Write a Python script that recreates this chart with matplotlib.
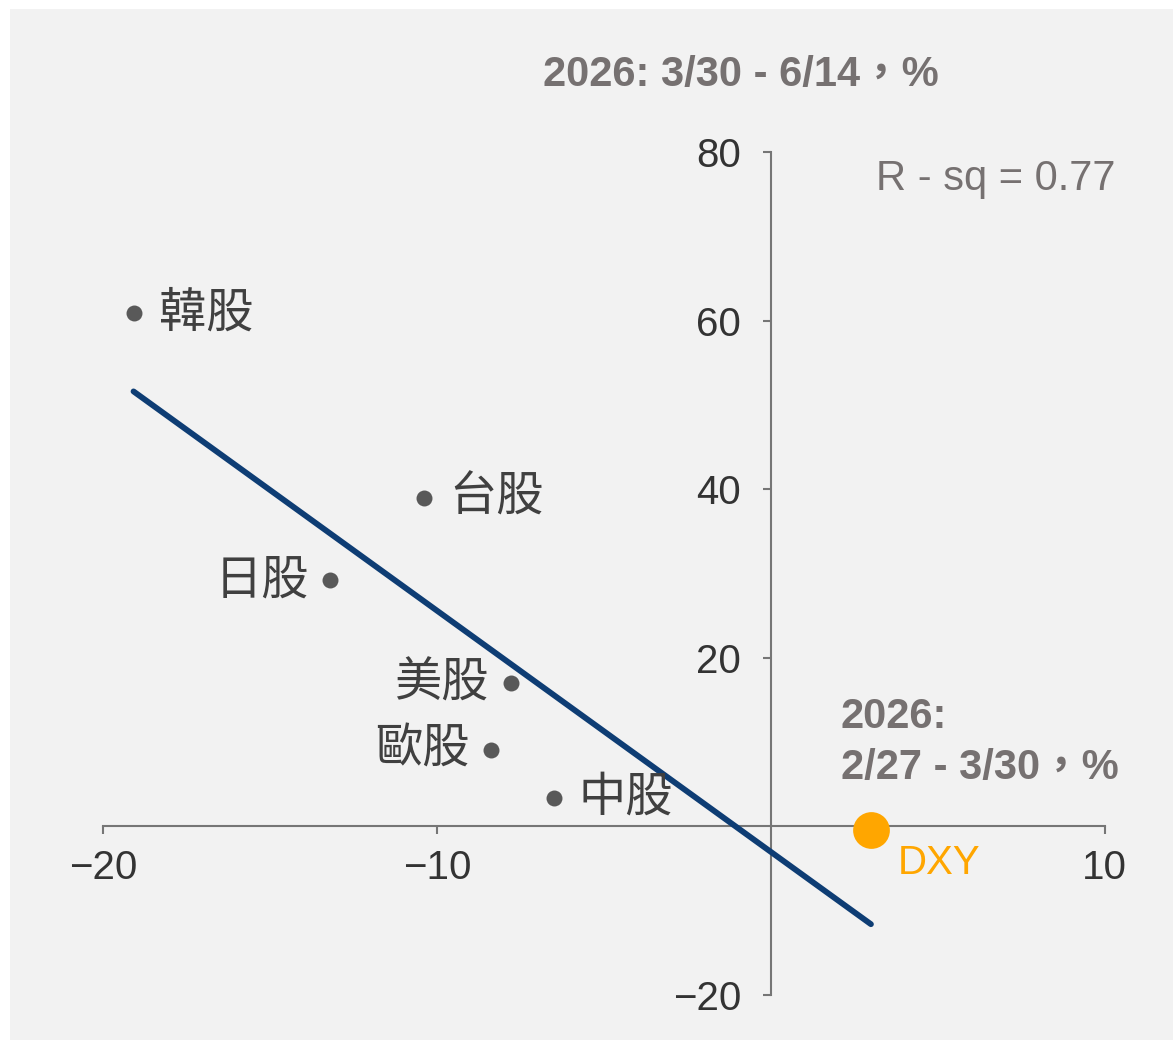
import matplotlib
matplotlib.use("Agg")
import matplotlib.pyplot as plt
from matplotlib.patches import Rectangle

# ---- data ----
markets = ["韓股", "台股", "日股", "美股", "歐股", "中股"]
x_change = [-19.1, -10.4, -13.2, -7.8, -8.4, -6.5]   # 2026: 2/27 - 3/30, %
y_change = [60.9, 39.0, 29.2, 17.0, 9.1, 3.4]        # 2026: 3/30 - 6/14, %
dxy_label = "DXY"
dxy_x = [3.0]
dxy_y = [-0.4]
trend_x = [-19.1, 3.0]
trend_y = [51.6, -11.6]
r_squared = 0.77
x_ticks = [-20, -10, 10]
y_ticks = [-20, 20, 40, 60, 80]
x_title = ["2026:", "2/27 - 3/30，%"]
y_title = "2026: 3/30 - 6/14，%"

# ---- style ----
W, H = 1173, 1040
fig = plt.figure(figsize=(W / 100, H / 100), dpi=100, facecolor="white")
fig.patches.append(Rectangle((10 / W, 0), 1 - 10 / W, 1 - 9 / H,
                             transform=fig.transFigure, facecolor="#f2f2f2",
                             edgecolor="none", zorder=-10))

ax = fig.add_axes([103.5 / W, (H - 995) / H, 1001 / W, 843 / H])
ax.set_facecolor("none")
ax.set_xlim(-20, 10)
ax.set_ylim(-20, 80)

spine_c = "#767676"
for s in ["top", "right"]:
    ax.spines[s].set_visible(False)
ax.spines["left"].set_position(("data", 0))
ax.spines["bottom"].set_position(("data", 0))
for s in ["left", "bottom"]:
    ax.spines[s].set_color(spine_c)
    ax.spines[s].set_linewidth(1.5)

num_font = ["Liberation Sans", "DejaVu Sans"]
ax.set_xticks(x_ticks)
ax.set_yticks(y_ticks)
ax.tick_params(axis="both", direction="out", length=5.5, width=1.5, color=spine_c,
               labelsize=29, labelcolor="#333333")
ax.tick_params(axis="x", pad=11)
ax.tick_params(axis="y", pad=16)
for lab in ax.get_xticklabels() + ax.get_yticklabels():
    lab.set_family(num_font)

# trend line
ax.plot(trend_x, trend_y, color="#0e3d74", lw=4.2, solid_capstyle="round", zorder=3)

# market points
ax.scatter(x_change, y_change, s=132, color="#595959", zorder=4, linewidths=0)

cjk = ["Noto Sans CJK TC", "DejaVu Sans"]
label_offsets = {"韓股": (18, 0, "left"), "台股": (18, 0, "left"), "日股": (-15, 0, "right"),
                 "美股": (-16, 0, "right"), "歐股": (-15, 0, "right"), "中股": (18, 0, "left")}
for name, xv, yv in zip(markets, x_change, y_change):
    dx, dy, ha = label_offsets[name]
    ax.annotate(name, (xv, yv), xytext=(dx, dy), textcoords="offset points",
                ha=ha, va="center", fontsize=34, color="#404040", family=cjk,
                fontweight="light", zorder=5)

# DXY
ax.scatter(dxy_x, dxy_y, s=700, color="#ffa600", zorder=5, linewidths=0, clip_on=False)
ax.annotate(dxy_label, (dxy_x[0], dxy_y[0]), xytext=(19, -24), textcoords="offset points",
            ha="left", va="center", fontsize=29, color="#ffa600", family=num_font)

# texts
title_c = "#767171"
mixed = ["Liberation Sans", "Noto Sans CJK TC"]
fig.text(543 / W, 1 - 75 / H, y_title, ha="left", va="center", fontsize=30,
         fontweight="bold", color=title_c, family=mixed)
fig.text(841 / W, 1 - 717 / H, x_title[0], ha="left", va="center", fontsize=30,
         fontweight="bold", color=title_c, family=mixed)
fig.text(841 / W, 1 - 768 / H, x_title[1], ha="left", va="center", fontsize=30,
         fontweight="bold", color=title_c, family=mixed)
fig.text(876 / W, 1 - 179 / H, f"R - sq = {r_squared:.2f}", ha="left", va="center",
         fontsize=30, color=title_c, family=num_font)

fig.savefig("out.png", dpi=100, facecolor=fig.get_facecolor())
